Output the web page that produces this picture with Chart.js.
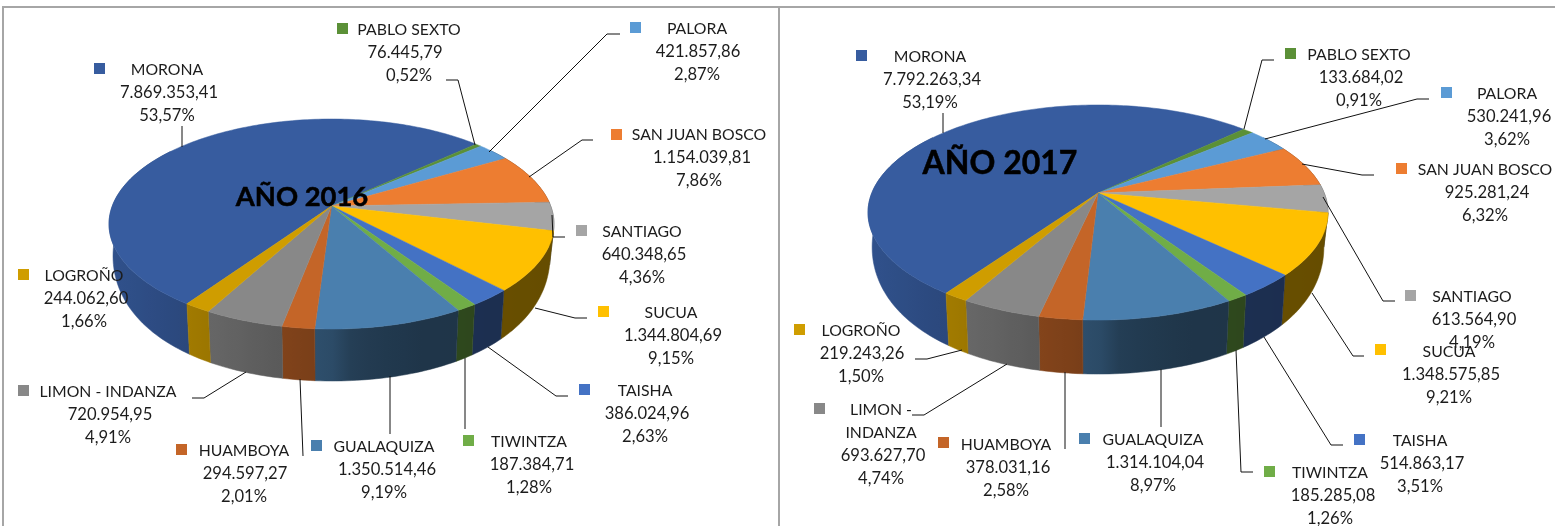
<!DOCTYPE html>
<html><head><meta charset="utf-8">
<script src="https://cdn.jsdelivr.net/npm/chart.js@4"></script>
<style>
html,body{margin:0;padding:0;background:#fff;width:1555px;height:526px;overflow:hidden}
canvas{position:absolute;top:0}
.b{position:absolute;background:#a6a6a6}
</style></head><body>
<div class="b" style="left:2px;top:6px;width:2px;height:520px"></div>
<div class="b" style="left:2px;top:6px;width:1553px;height:2px"></div>
<div class="b" style="left:778px;top:6px;width:2px;height:520px"></div>
<div style="position:absolute;left:0;top:0;width:780px;height:526px"><canvas id="c16" style="left:0"></canvas></div>
<div style="position:absolute;left:780px;top:0;width:775px;height:526px"><canvas id="c17" style="left:0"></canvas></div>
<script>
const categories = ["MORONA","PABLO SEXTO","PALORA","SAN JUAN BOSCO","SANTIAGO","SUCUA","TAISHA","TIWINTZA","GUALAQUIZA","HUAMBOYA","LIMON - INDANZA","LOGROÑO"];
const values2016 = [7869353.41,76445.79,421857.86,1154039.81,640348.65,1344804.69,386024.96,187384.71,1350514.46,294597.27,720954.95,244062.60];
const percent2016 = ["53,57%","0,52%","2,87%","7,86%","4,36%","9,15%","2,63%","1,28%","9,19%","2,01%","4,91%","1,66%"];
const values2017 = [7792263.34,133684.02,530241.96,925281.24,613564.90,1348575.85,514863.17,185285.08,1314104.04,378031.16,693627.70,219243.26];
const percent2017 = ["53,19%","0,91%","3,62%","6,32%","4,19%","9,21%","3,51%","1,26%","8,97%","2,58%","4,74%","1,50%"];
const colors = ["#375c9f","#5b9037","#5b9bd5","#ed7d31","#a5a5a5","#ffc000","#4472c4","#70ad47","#4a7fae","#c46528","#888888","#cf9d00"];

// label layout: [swatch x, swatch y, name cx, value cx, first line y]
const layout2016 = [[94,63,167,169,69],[337,23,409,405,29],[630,22,697,698,28],[611,129,699,702,134],[576,225,642,644,231],[598,306,671,673,312],[579,384,645,647,390],[463,435,529,532,441],[311,440,384,387,446],[176,444,244,245,450],[18,385,108,110,391],[18,269,84,86,275]];
const layout2017 = [[856,50,930,932,56],[1285,48,1359,1361,54],[1441,87,1507,1509,93],[1396,163,1485,1487,169],[1405,290,1472,1474,296],[1375,344,1449,1451,351],[1354,434,1420,1422,440],[1264,466,1330,1333,472],[1079,433,1153,1155,439],[938,437,1006,1008,444],[814,403,881,883,409],[794,324,861,862,330]];
const leaders2016 = [[[182,126],[182,147]],[[446,80],[458,80],[475,145]],[[620,34],[607,34],[489,152]],[[593,140],[582,140],[529,177]],[[552,215],[553,237],[565,237]],[[587,318],[575,318],[535,308]],[[568,396],[556,396],[488,347]],[[465,358],[465,429]],[[390,376],[390,434]],[[300,379],[303,456]],[[246,372],[204,398],[192,398]],[]];
const leaders2017 = [[[943,113],[943,133]],[[1274,60],[1262,60],[1244,129]],[[1429,99],[1417,99],[1265,139]],[[1374,175],[1362,175],[1302,164]],[[1323,197],[1383,301],[1395,301]],[[1364,356],[1353,356],[1312,293]],[[1343,445],[1331,445],[1264,337]],[[1236,350],[1241,472],[1253,472]],[[1161,369],[1161,427]],[[1065,372],[1065,449]],[[912,415],[924,415],[1007,364]],[[915,359],[927,359],[962,350]]];

const NAME_FONT = '15.8px Lato';
const NUM_FONT = '16.6px Lato';
const TEXT = '#1c1c1c';

function fmt(v){
  const [i,d] = v.toFixed(2).split('.');
  return i.replace(/\B(?=(\d{3})+$)/g,'.') + ',' + d;
}
function shade(hex,f){
  const n = parseInt(hex.slice(1),16);
  return `rgb(${Math.round((n>>16&255)*f)},${Math.round((n>>8&255)*f)},${Math.round((n&255)*f)})`;
}
// perspective view of the pie's disc
function rim(g,t){
  const x=Math.cos(t), y=Math.sin(t), w=1-g.a*y;
  return [g.cx+g.sx*x/w, g.cy+g.sy*y/w];
}
function low(g,p){
  const dy=p[1]-g.cy;
  const drop=g.depth-20*Math.pow(Math.max(0,g.front-dy)/(g.front-18),1.8);
  return [g.cx+(p[0]-g.cx)*g.shrink, p[1]+drop];
}
const wallStops=[[-1,.88],[-.65,.78],[-.3,.68],[0,.6],[.1,.48],[.4,.42],[1,.4]];
function wallF(nx){
  for(let i=1;i<wallStops.length;i++){
    const [a,fa]=wallStops[i-1],[b,fb]=wallStops[i];
    if(nx<=b) return fa+(fb-fa)*(Math.max(nx,a)-a)/(b-a);
  }
  return .4;
}
// slices are drawn by the library's arc element, in perspective
Chart.ArcElement.prototype.draw = function(ctx){
  const g = Chart.getChart(ctx.canvas).options.plugins.pie3d;
  const o = this.options.backgroundColor;
  ctx.save();
  ctx.translate(-g.ox,0);
  ctx.beginPath();
  ctx.moveTo(g.cx,g.cy);
  const n=Math.max(2,Math.ceil((this.endAngle-this.startAngle)/0.02));
  for(let i=0;i<=n;i++){
    const p=rim(g,this.startAngle+(this.endAngle-this.startAngle)*i/n);
    ctx.lineTo(p[0],p[1]);
  }
  ctx.closePath();
  ctx.fillStyle=o; ctx.strokeStyle=o; ctx.lineWidth=.5; ctx.lineJoin='round';
  ctx.fill(); ctx.stroke();
  ctx.restore();
};
const pie3d = {
  id:'pie3d',
  beforeDatasetsDraw(chart,args,g){
    const ctx=chart.ctx, meta=chart.getDatasetMeta(0);
    ctx.save(); ctx.translate(-g.ox,0);
    meta.data.forEach(el=>{
      const col=el.options.backgroundColor, pts=[];
      const n=Math.max(2,Math.ceil((el.endAngle-el.startAngle)/0.02));
      for(let i=0;i<=n;i++){
        const t=el.startAngle+(el.endAngle-el.startAngle)*i/n;
        if(Math.sin(t)>-.6) pts.push(rim(g,t));
      }
      if(pts.length<2) return;
      const xs=pts.map(p=>p[0]), x0=Math.min(...xs), x1=Math.max(...xs);
      const gr=ctx.createLinearGradient(x0,0,Math.max(x1,x0+1),0);
      for(let k=0;k<=8;k++){
        const f=k/8, x=x0+(x1-x0)*f;
        gr.addColorStop(f,shade(col,wallF((x-g.cx)/g.rx)));
      }
      ctx.beginPath();
      pts.forEach((p,i)=>i?ctx.lineTo(p[0],p[1]):ctx.moveTo(p[0],p[1]));
      pts.slice().reverse().forEach(p=>{const q=low(g,p);ctx.lineTo(q[0],q[1]);});
      ctx.closePath();
      ctx.fillStyle=gr; ctx.strokeStyle=gr; ctx.lineWidth=.5;
      ctx.fill(); ctx.stroke();
    });
    ctx.restore();
  },
  afterDraw(chart,args,g){
    const ctx=chart.ctx;
    ctx.save(); ctx.translate(-g.ox,0);
    ctx.strokeStyle='#111'; ctx.lineWidth=1;
    g.leaders.forEach(l=>{
      if(!l.length) return;
      ctx.beginPath(); l.forEach((p,i)=>i?ctx.lineTo(p[0],p[1]):ctx.moveTo(p[0],p[1])); ctx.stroke();
    });
    ctx.textAlign='center'; ctx.textBaseline='middle';
    const vals=chart.data.datasets[0].data, cats=chart.data.labels;
    g.layout.forEach((L,i)=>{
      ctx.fillStyle=colors[i]; ctx.fillRect(L[0],L[1],11,11);
      ctx.fillStyle=TEXT;
      let y=L[4]+1;
      const names=(g.wrap&&cats[i]==='LIMON - INDANZA')?['LIMON -','INDANZA']:[cats[i]];
      ctx.font=NAME_FONT;
      names.forEach(n=>{ctx.fillText(n,L[2],y); y+=23;});
      ctx.font=NUM_FONT;
      ctx.fillText(fmt(vals[i]),L[3],y); y+=23;
      ctx.fillText(g.pct[i],L[2],y);
    });
    ctx.fillStyle='#000'; ctx.strokeStyle='#000'; ctx.lineWidth=.5; ctx.font=g.titleFont;
    ctx.fillText(g.title,g.tx,g.ty);
    ctx.strokeText(g.title,g.tx,g.ty);
    ctx.restore();
  }
};
function make(id,w,vals,rotation,geo){
  const cv=document.getElementById(id);
  cv.width=w; cv.height=526; cv.style.width=w+'px'; cv.style.height='526px';
  return new Chart(cv,{
    type:'pie',
    data:{labels:categories,datasets:[{data:vals,backgroundColor:colors,borderWidth:0}]},
    options:{responsive:false,animation:false,events:[],rotation,
      plugins:{legend:{display:false},tooltip:{enabled:false},pie3d:geo}},
    plugins:[pie3d]
  });
}
make('c16',780,values2016,214.5,{ox:0,cx:331.5,cy:206,sx:219.2,sy:101.9,a:.1716,rx:222.5,shrink:.982,depth:52,front:123,
  layout:layout2016,leaders:leaders2016,pct:percent2016,title:'AÑO 2016',tx:302,ty:197,titleFont:'bold 27.4px Lato'});
make('c17',775,values2017,214.9,{ox:780,cx:1098,cy:193,sx:226.2,sy:104,a:.1814,rx:230,shrink:.982,depth:54,front:127,wrap:true,
  layout:layout2017,leaders:leaders2017,pct:percent2017,title:'AÑO 2017',tx:1000,ty:164,titleFont:'bold 32px Lato'});
</script>
</body></html>
